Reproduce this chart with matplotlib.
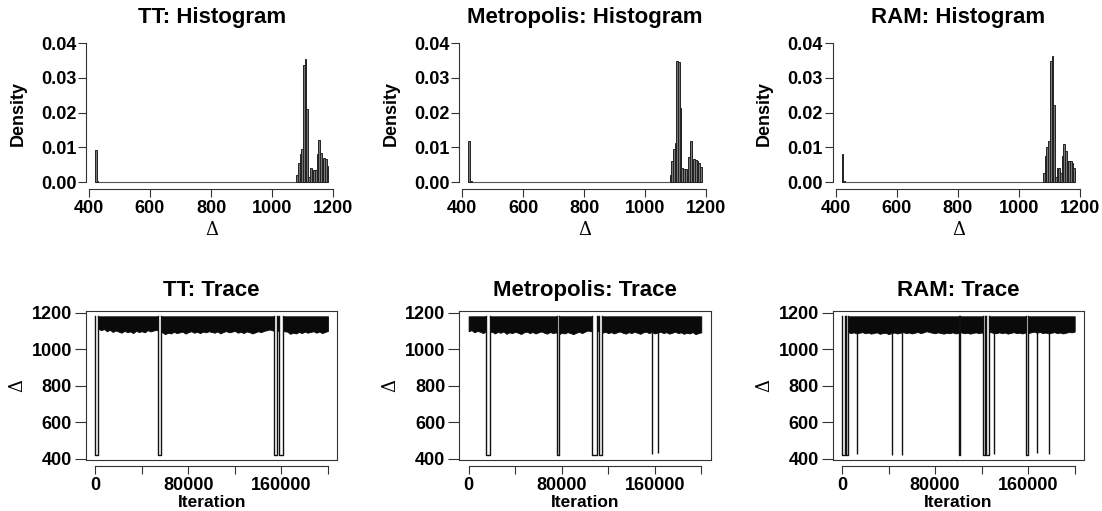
import numpy as np
import matplotlib
matplotlib.use("Agg")
import matplotlib.pyplot as plt
from matplotlib.lines import Line2D

plt.rcParams['font.family'] = ['Liberation Sans', 'DejaVu Sans']
plt.rcParams['font.weight'] = 'bold'

# ---------------- data ----------------
samplers = ["TT", "Metropolis", "RAM"]

# histogram: low mode bins (start 420) and high-mode cluster bins (1080 .. 1184.5)
low_edges = [420.0, 425.5, 431.0]
high_edges = np.linspace(1080, 1184.5, 20)

tt_low_density = [0.0092, 0.0004]
metro_low_density = [0.0117, 0.0002]
ram_low_density = [0.0082, 0.0003]

tt_high_density = [0.0020, 0.0055, 0.0080, 0.0094, 0.0336, 0.0354, 0.0210, 0.0015, 0.0040,
                   0.0035, 0.0035, 0.0035, 0.0080, 0.0120, 0.0085, 0.0065, 0.0070, 0.0067, 0.0046]
metro_high_density = [0.0020, 0.0062, 0.0096, 0.0113, 0.0347, 0.0345, 0.0214, 0.0040, 0.0038,
                      0.0037, 0.0020, 0.0072, 0.0117, 0.0056, 0.0065, 0.0064, 0.0060, 0.0056, 0.0043]
ram_high_density = [0.0027, 0.0075, 0.0100, 0.0117, 0.0349, 0.0363, 0.0223, 0.0015, 0.0040,
                    0.0040, 0.0027, 0.0075, 0.0110, 0.0088, 0.0062, 0.0062, 0.0060, 0.0056, 0.0040]

# trace: lower envelope of the dense high-mode band, read every 2500 iterations (0 .. 200000)
band_top = 1180
low_level = 422
tt_band_low = [1108, 1112, 1104, 1110, 1098, 1106, 1094, 1102, 1096, 1090, 1100, 1093, 1097, 1088,
               1100, 1094, 1098, 1092, 1104, 1097, 1102, 1106, 1098, 1092, 1082, 1090, 1086, 1095,
               1088, 1092, 1096, 1085, 1093, 1098, 1090, 1095, 1088, 1096, 1092, 1098, 1094, 1090,
               1097, 1086, 1094, 1099, 1092, 1096, 1100, 1090, 1095, 1088, 1097, 1093, 1086, 1092,
               1098, 1093, 1100, 1104, 1108, 1102, 1106, 1100, 1104, 1098, 1096, 1084, 1090, 1086,
               1094, 1088, 1096, 1090, 1094, 1098, 1090, 1096, 1088, 1094, 1100]
metro_band_low = [1098, 1104, 1092, 1100, 1095, 1088, 1099, 1092, 1096, 1086, 1094, 1090, 1097, 1084,
                  1092, 1088, 1095, 1090, 1083, 1092, 1096, 1088, 1094, 1086, 1092, 1097, 1090, 1085,
                  1094, 1088, 1092, 1080, 1090, 1086, 1093, 1088, 1082, 1090, 1095, 1088, 1096, 1102,
                  1098, 1104, 1100, 1096, 1090, 1095, 1088, 1093, 1086, 1092, 1097, 1090, 1085, 1093,
                  1088, 1095, 1090, 1084, 1092, 1096, 1088, 1094, 1086, 1091, 1095, 1088, 1093, 1085,
                  1090, 1096, 1088, 1092, 1084, 1090, 1086, 1093, 1082, 1088, 1092]
ram_band_low = [1096, 1092, 1094, 1088, 1092, 1086, 1090, 1093, 1087, 1091, 1085, 1089, 1092, 1084,
                1088, 1090, 1082, 1088, 1091, 1086, 1090, 1093, 1088, 1091, 1086, 1090, 1094, 1088,
                1092, 1098, 1094, 1090, 1087, 1092, 1088, 1085, 1090, 1087, 1092, 1086, 1089, 1092,
                1087, 1090, 1085, 1089, 1092, 1088, 1091, 1086, 1090, 1094, 1089, 1087, 1092, 1088,
                1091, 1085, 1089, 1093, 1088, 1090, 1086, 1091, 1088, 1092, 1096, 1090, 1094, 1088,
                1091, 1086, 1090, 1093, 1088, 1091, 1086, 1090, 1094, 1092, 1096]

# periods (start, end iteration) spent in the low mode
tt_low_periods = [(0, 2500), (53900, 56500), (153400, 156300), (158000, 160900)]
metro_low_periods = [(15200, 18100), (75600, 77900), (106300, 110000), (112000, 114400)]
ram_low_periods = [(0, 2900), (3700, 4900), (100500, 101300), (121300, 123200),
                   (124000, 126400), (158500, 160000)]
# single-iteration excursions: (iteration, lowest value)
tt_spikes = []
metro_spikes = [(158000, 425), (162400, 430)]
ram_spikes = [(12900, 425), (43100, 422), (51700, 422), (130700, 425), (167500, 432), (178200, 425)]

hist_low = [tt_low_density, metro_low_density, ram_low_density]
hist_high = [tt_high_density, metro_high_density, ram_high_density]
band_lows = [tt_band_low, metro_band_low, ram_band_low]
low_periods = [tt_low_periods, metro_low_periods, ram_low_periods]
spikes = [tt_spikes, metro_spikes, ram_spikes]

# ---------------- layout ----------------
W, H = 1102, 511
fig = plt.figure(figsize=(W / 100, H / 100), dpi=100)


def rect(l, t, r, b):
    return [l / W, 1 - b / H, (r - l) / W, (b - t) / H]


lefts = [86, 459.3, 832.7]
pw = 251.3
axis_col = '#333333'
TICK = 13
LAB = 13
TIT = 16

for i, name in enumerate(samplers):
    # ---------- histogram ----------
    ax = fig.add_axes(rect(lefts[i], 38, lefts[i] + pw, 189))
    ax.hlines(0, low_edges[0], high_edges[-1], color='#555555', lw=0.8, zorder=1)
    ax.bar(low_edges[:-1], hist_low[i], width=np.diff(low_edges), align='edge',
           facecolor='#777777', edgecolor='#222222', linewidth=0.7, zorder=2)
    ax.bar(high_edges[:-1], hist_high[i], width=np.diff(high_edges), align='edge',
           facecolor='#777777', edgecolor='#222222', linewidth=0.7, zorder=2)
    ax.set_xlim(390.2, 1214)
    ax.set_ylim(-0.0020, 0.04145)
    ax.set_xticks([400, 600, 800, 1000, 1200])
    ax.set_yticks([0.00, 0.01, 0.02, 0.03, 0.04])
    ax.set_yticklabels(['0.00', '0.01', '0.02', '0.03', '0.04'])
    for s in ['top', 'right']:
        ax.spines[s].set_visible(False)
    ax.spines['left'].set_bounds(0, 0.04)
    ax.spines['bottom'].set_bounds(400, 1200)
    for s in ['left', 'bottom']:
        ax.spines[s].set_color(axis_col)
        ax.spines[s].set_linewidth(0.8)
    ax.tick_params(axis='both', direction='out', length=6, width=0.8, color=axis_col,
                   labelsize=TICK)
    ax.tick_params(axis='y', pad=1)
    ax.tick_params(axis='x', pad=2)
    ax.set_title(f"{name}: Histogram", fontsize=TIT, fontweight='bold', pad=11)
    ax.set_ylabel("Density", fontsize=LAB, fontweight='bold')
    ax.yaxis.label.set_verticalalignment('center')
    ax.yaxis.set_label_coords(-0.271, 0.5)
    ax.set_xlabel("Δ", fontsize=LAB, fontweight='normal', family='DejaVu Serif')
    ax.xaxis.set_label_coords(0.5, -0.27)
    ax.xaxis.label.set_verticalalignment('center')

    # ---------- trace ----------
    tx = fig.add_axes(rect(lefts[i], 311, lefts[i] + pw, 460))
    env_iter = np.linspace(0, 200000, len(band_lows[i]))
    tx.fill_between(env_iter, band_lows[i], band_top, color='#0a0a0a', linewidth=0.6,
                    edgecolor='#0a0a0a', zorder=1)
    for (s0, s1) in low_periods[i]:
        tx.fill_between([s0, s1], 1040, band_top + 3, color='white', linewidth=0, zorder=2)
        tx.plot([s0, s0, s1, s1], [band_top, low_level, low_level, band_top],
                color='#111111', lw=1.0, zorder=3)
    for (it, lo) in spikes[i]:
        tx.vlines(it, lo, 1095, color='#111111', lw=1.0, zorder=3)
    tx.set_xlim(-8000, 208000)
    tx.set_ylim(393, 1209)
    tx.set_xticks([0, 40000, 80000, 120000, 160000, 200000])
    tx.set_xticklabels(['0', '', '80000', '', '160000', ''])
    tx.set_yticks([400, 600, 800, 1000, 1200])
    for s in tx.spines.values():
        s.set_color(axis_col)
        s.set_linewidth(0.8)
    tx.spines['bottom'].set_position(('outward', 4))
    tx.spines['bottom'].set_bounds(0, 200000)
    tx.add_line(Line2D([0, 1], [0, 0], transform=tx.transAxes, color=axis_col, lw=0.8,
                       clip_on=False))
    tx.tick_params(axis='both', direction='out', length=6, width=0.8, color=axis_col,
                   labelsize=TICK)
    tx.tick_params(axis='y', pad=2, length=8)
    tx.tick_params(axis='x', pad=2)
    tx.set_title(f"{name}: Trace", fontsize=TIT, fontweight='bold', pad=11)
    tx.set_ylabel("Δ", fontsize=LAB, fontweight='normal', family='DejaVu Serif')
    tx.yaxis.label.set_verticalalignment('center')
    tx.yaxis.set_label_coords(-0.273, 0.5)
    tx.set_xlabel("Iteration", fontsize=12.5, fontweight='bold')
    tx.xaxis.set_label_coords(0.5, -0.285)
    tx.xaxis.label.set_verticalalignment('center')

fig.savefig("out.png", dpi=100)
